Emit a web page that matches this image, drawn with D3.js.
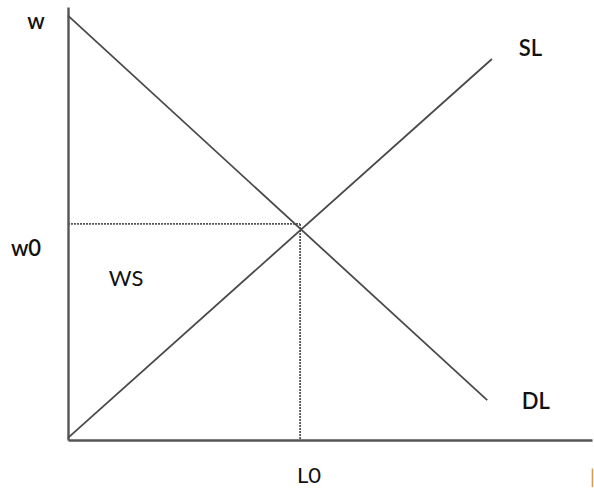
<!DOCTYPE html>
<html>
<head>
<meta charset="utf-8">
<script src="https://cdn.jsdelivr.net/npm/d3@7/dist/d3.min.js"></script>
<style>
  html, body { margin: 0; padding: 0; background: #fff; }
  svg { display: block; }
  text { font-family: Lato, "Open Sans", sans-serif; fill: #111; font-variant-numeric: lining-nums; font-feature-settings: "lnum" 1; }
</style>
</head>
<body>
<svg id="chart" width="594" height="489"></svg>
<script>
// ---- data (units: labour L on x, wage w on y) ----
const xDomain = [0, 100];
const yDomain = [0, 100];
const demandLine = [[0, 98], [80, 9.2]];   // DL
const supplyLine = [[0, 0.5], [80.9, 88]]; // SL
const equilibriumL = 44.3;                  // L0
const equilibriumW = 49.9;                  // w0
const labels = [
  { text: "w",  L: -7.8, w: 94.9, weight: 600 },
  { text: "w0", L: -10.9, w: 42.5, weight: 600 },
  { text: "WS", L: 7.8,  w: 35.6, weight: 400 },
  { text: "SL", L: 86.0, w: 88.6, weight: 600 },
  { text: "DL", L: 86.6, w: 7.2,  weight: 600 },
  { text: "L0", L: 43.7, w: -9.9, weight: 400 }
];

// ---- layout ----
const svg = d3.select("#chart");
const x = d3.scaleLinear().domain(xDomain).range([68, 592]);
const y = d3.scaleLinear().domain(yDomain).range([440, 7]);

// axes
svg.append("g")
  .attr("transform", `translate(0,${y(0)})`)
  .call(d3.axisBottom(x).tickValues([]).tickSizeOuter(0))
  .select(".domain").attr("stroke", "#555").attr("stroke-width", 2.4);
svg.append("g")
  .attr("transform", `translate(${x(0)},0)`)
  .call(d3.axisLeft(y).tickValues([]).tickSizeOuter(0))
  .select(".domain").attr("stroke", "#555").attr("stroke-width", 2.4);

// dotted guide lines
const guide = svg.append("g")
  .attr("stroke", "#555").attr("stroke-width", 1.8)
  .attr("stroke-dasharray", "2,1").attr("fill", "none");
guide.append("line")
  .attr("x1", x(0)).attr("y1", y(equilibriumW))
  .attr("x2", x(equilibriumL)).attr("y2", y(equilibriumW));
guide.append("line")
  .attr("x1", x(equilibriumL)).attr("y1", y(equilibriumW))
  .attr("x2", x(equilibriumL)).attr("y2", y(0));

// demand and supply curves
const line = d3.line().x(d => x(d[0])).y(d => y(d[1]));
svg.append("path").datum(demandLine)
  .attr("d", line).attr("fill", "none")
  .attr("stroke", "#4a4a4a").attr("stroke-width", 1.8);
svg.append("path").datum(supplyLine)
  .attr("d", line).attr("fill", "none")
  .attr("stroke", "#4a4a4a").attr("stroke-width", 1.8);

// labels
svg.selectAll("text.lbl").data(labels).enter().append("text")
  .attr("class", "lbl")
  .attr("x", d => x(d.L)).attr("y", d => y(d.w))
  .attr("font-size", 22)
  .attr("font-weight", d => d.weight)
  .text(d => d.text);

// stray cursor mark at bottom right
svg.append("text")
  .attr("x", 590).attr("y", 484)
  .attr("font-size", 20)
  .style("fill", "#d09a3a")
  .text("|");
</script>
</body>
</html>
